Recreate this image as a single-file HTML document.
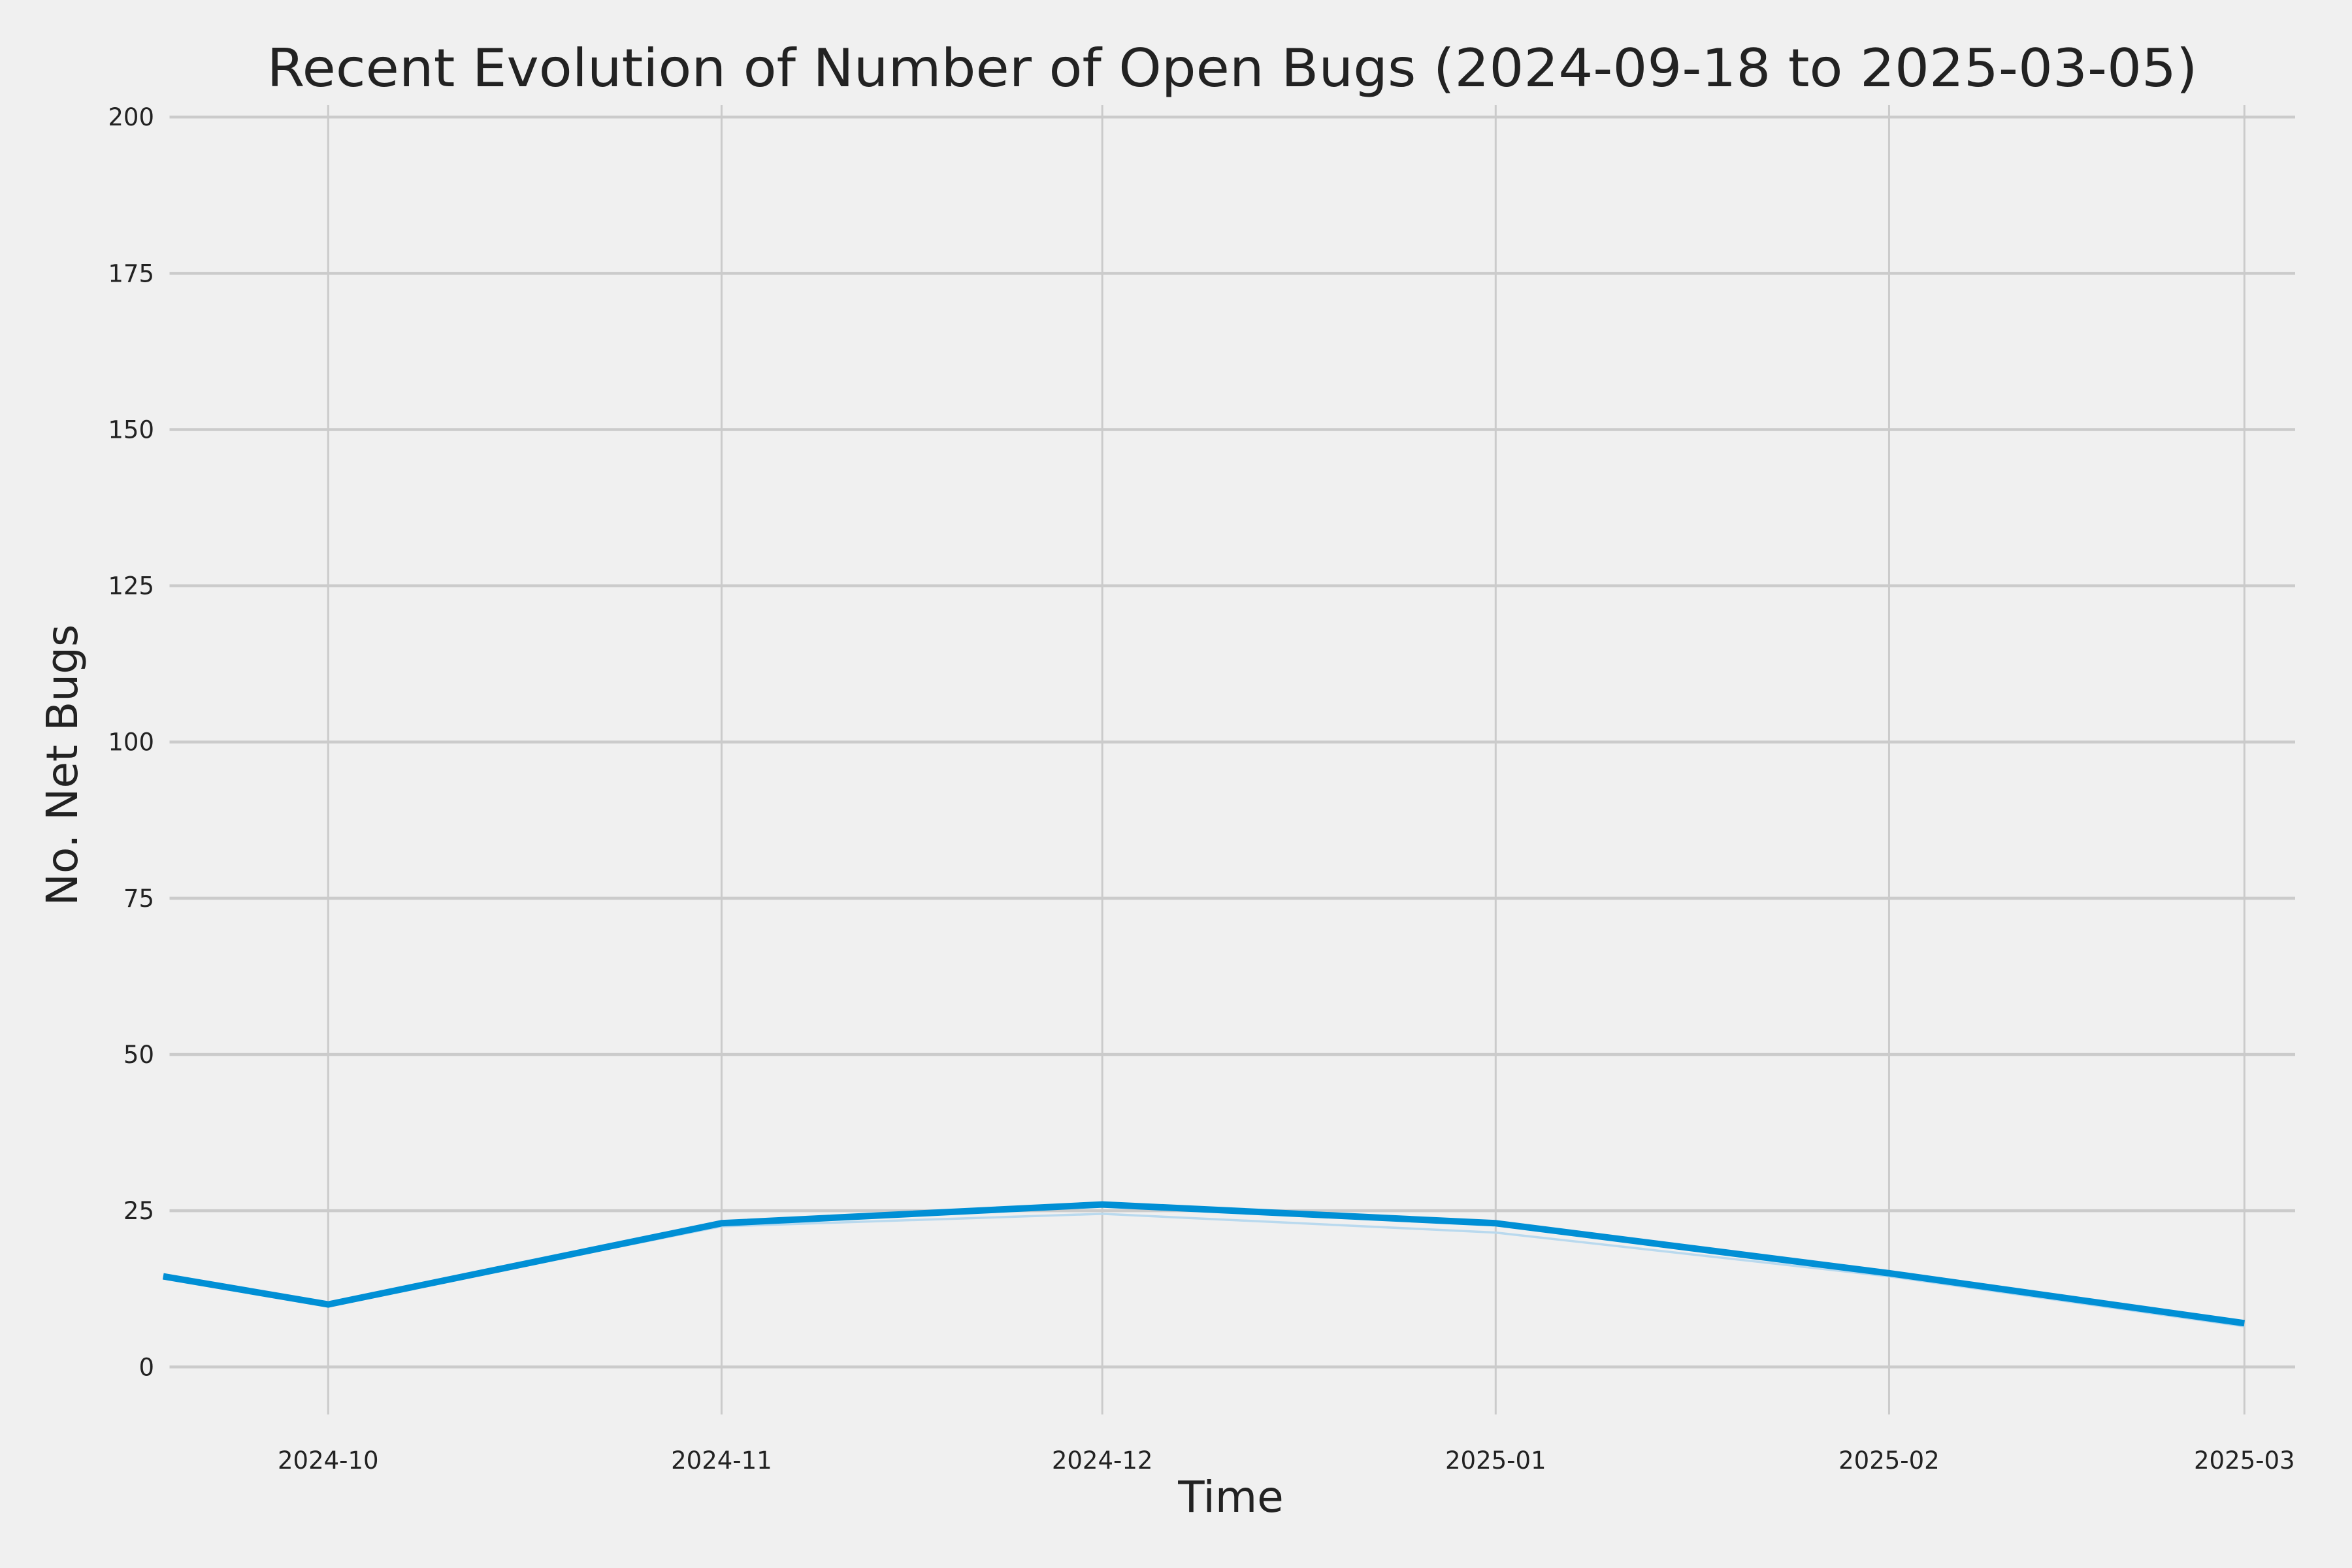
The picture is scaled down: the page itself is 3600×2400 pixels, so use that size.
<!DOCTYPE html>
<html><head><meta charset="utf-8"><style>
html,body{margin:0;padding:0;background:#f0f0f0;}
svg{display:block;font-family:"DejaVu Sans","Liberation Sans",sans-serif;}
</style></head><body>
<svg id="chart" width="3600" height="2400" viewBox="0 0 3600 2400" xmlns="http://www.w3.org/2000/svg">
<rect x="0" y="0" width="3600" height="2400" fill="#f0f0f0"/>
<text x="1886" y="132" font-size="80" fill="#222" text-anchor="middle" textLength="2955" lengthAdjust="spacingAndGlyphs">Recent Evolution of Number of Open Bugs (2024-09-18 to 2025-03-05)</text>
<g id="grid"></g>
<g id="series"></g>
<g id="ticks"></g>
<text x="1884" y="2314" font-size="66" fill="#222" text-anchor="middle">Time</text>
<text transform="translate(118,1171) rotate(-90)" font-size="66" fill="#222" text-anchor="middle">No. Net Bugs</text>
</svg>
<script>
const dates = ["2024-09-18","2024-10-01","2024-11-01","2024-12-01","2025-01-01","2025-02-01","2025-03-01"];
const netBugs = [14.5, 10, 23, 26, 23, 15, 7];
const trendBugs = [14.5, 10, 22.5, 24.5, 21.5, 14.5, 6.5];
const xTickLabels = ["2024-10","2024-11","2024-12","2025-01","2025-02","2025-03"];
const yTickValues = [0, 25, 50, 75, 100, 125, 150, 175, 200];

const NS = "http://www.w3.org/2000/svg";
const X0 = 259.5, X1 = 3513, Y0 = 2165, Y1 = 161;
const xMin = Date.UTC(2024,8,18,12), xMax = Date.UTC(2025,2,5);
const yMin = -7.6, yMax = 201.9;
function parse(d){const p=d.split("-").map(Number);return Date.UTC(p[0],p[1]-1,p[2]||1);}
function xs(d){return X0 + (parse(d)-xMin)/(xMax-xMin)*(X1-X0);}
function ys(v){return Y0 - (v-yMin)/(yMax-yMin)*(Y0-Y1);}
function mk(tag, attrs, parent){const e=document.createElementNS(NS,tag);for(const k in attrs)e.setAttribute(k,attrs[k]);parent.appendChild(e);return e;}

const grid=document.getElementById("grid"), ticks=document.getElementById("ticks"), series=document.getElementById("series");
yTickValues.forEach(v=>{
  const l=mk("line",{x1:X0,x2:X1,y1:ys(v),y2:ys(v),stroke:"#cbcbcb","stroke-width":4.5},grid);
  
  
  const t=mk("text",{x:236,y:ys(v)+13,"font-size":37,fill:"#222","text-anchor":"end"},ticks);
  t.textContent=String(v);
  
  
});
xTickLabels.forEach(lbl=>{
  const x=xs(lbl);
  const l=mk("line",{x1:x,x2:x,y1:Y1,y2:Y0,stroke:"#cbcbcb","stroke-width":3},grid);
  
  
  const t=mk("text",{x:x,y:2248,"font-size":37,fill:"#222","text-anchor":"middle"},ticks);
  t.textContent=lbl;
  
  
});
function pts(vals){return vals.map((v,i)=>xs(dates[i]).toFixed(1)+","+ys(v).toFixed(1)).join(" ");}
const faint=mk("polyline",{points:pts(trendBugs),fill:"none",stroke:"#b9d9ee","stroke-width":3.5,"stroke-linejoin":"round"},series);


const main=mk("polyline",{points:pts(netBugs),fill:"none",stroke:"#008fd5","stroke-width":10,"stroke-linejoin":"round"},series);


</script>
</body></html>
